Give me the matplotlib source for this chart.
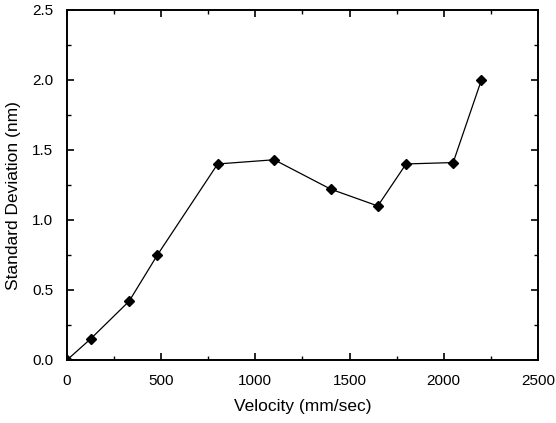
import matplotlib.pyplot as plt
from matplotlib.ticker import MultipleLocator

plt.rcParams['font.family'] = ['Liberation Sans', 'DejaVu Sans']

# data
velocity = [0, 125, 330, 480, 800, 1100, 1400, 1650, 1800, 2050, 2200]
std_dev = [0.0, 0.15, 0.42, 0.75, 1.40, 1.43, 1.22, 1.10, 1.40, 1.41, 2.00]

fig = plt.figure(figsize=(5.56, 4.23), dpi=100)
ax = fig.add_axes([0.1205, 0.149, 0.847, 0.8275])

ax.plot(velocity, std_dev, color='black', linewidth=0.9,
        marker='D', markersize=5.5, markerfacecolor='black', markeredgecolor='black')

ax.set_xlim(0, 2500)
ax.set_ylim(0, 2.5)
ax.xaxis.set_major_locator(MultipleLocator(500))
ax.xaxis.set_minor_locator(MultipleLocator(250))
ax.yaxis.set_major_locator(MultipleLocator(0.5))
ax.yaxis.set_minor_locator(MultipleLocator(0.25))
ax.yaxis.set_major_formatter(plt.FormatStrFormatter('%.1f'))

ax.tick_params(which='both', direction='in', top=True, right=True, labelsize=11)
ax.tick_params(which='major', length=5, width=1.2, pad=10)
ax.tick_params(which='minor', length=3, width=1)
for s in ax.spines.values():
    s.set_linewidth(1.4)

ax.set_xlabel('Velocity (mm/sec)', fontsize=12.5, labelpad=8)
ax.set_ylabel('Standard Deviation (nm)', fontsize=12.5)
ax.yaxis.set_label_coords(-0.097, 0.469)

fig.savefig('out.png', dpi=100)
